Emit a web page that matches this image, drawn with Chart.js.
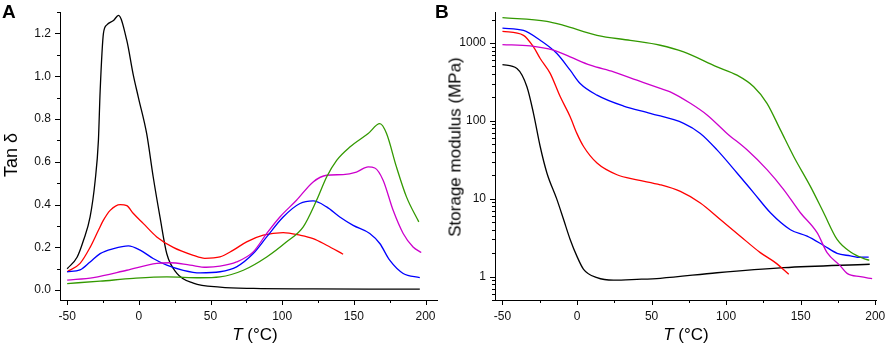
<!DOCTYPE html>
<html>
<head>
<meta charset="utf-8">
<script src="https://cdn.jsdelivr.net/npm/chart.js@4.4.1/dist/chart.umd.min.js"></script>
<style>
  html, body { margin: 0; padding: 0; background: #fff; }
  #wrap { position: relative; width: 886px; height: 349px; overflow: hidden; font-family: "Liberation Sans", Arial, sans-serif; color: #000; }
  .pane { position: absolute; top: 0; height: 349px; }
  .lbl { position: absolute; white-space: nowrap; line-height: 1; }
  .panel { font-weight: bold; font-size: 19px; }
  .ytitle { font-size: 17px; transform: translate(-50%, -50%) rotate(-90deg); }
  .xtitle { font-size: 17px; transform: translateX(-50%); }
</style>
</head>
<body>
<div id="wrap">
  <div class="pane" style="left:0;width:445px;"><canvas id="cA"></canvas></div>
  <div class="pane" style="left:445px;width:441px;"><canvas id="cB"></canvas></div>
  <div class="lbl panel" style="left:2px;top:2px;">A</div>
  <div class="lbl panel" style="left:435px;top:2px;">B</div>
  <div class="lbl ytitle" style="left:11px;top:155px;font-size:18px;">Tan δ</div>
  <div class="lbl ytitle" style="left:455px;top:147px;">Storage modulus (MPa)</div>
  <div class="lbl xtitle" style="left:255px;top:326px;"><i>T</i> (°C)</div>
  <div class="lbl xtitle" style="left:686px;top:326px;"><i>T</i> (°C)</div>
</div>
<script>
// ---------- Tick values ----------
const tempTicks = [-50, 0, 50, 100, 150, 200];
const tempMinorTicks = [-25, 25, 75, 125, 175];
const tanTicks = [0, 0.2, 0.4, 0.6, 0.8, 1.0, 1.2];
const tanMinorTicks = [0.1, 0.3, 0.5, 0.7, 0.9, 1.1, 1.3];
const modTicks = [1, 10, 100, 1000];
const modMinorTicks = [0.5, 0.6, 0.7, 0.8, 0.9, 2, 3, 4, 5, 6, 7, 8, 9, 20, 30, 40, 50, 60, 70, 80, 90, 200, 300, 400, 500, 600, 700, 800, 900, 2000];

// ---------- Panel A: tan delta ----------
const tanBlackT = [-50, -43, -38.6, -34, -30.5, -28.2, -27, -24.7, -22.3, -17.7, -14.2, -8.4, -4, -0.3, 5.5, 10, 14.8, 19.5, 26.4, 38, 56.6, 80, 120, 160, 196];
const tanBlack  = [0.10, 0.155, 0.233, 0.342, 0.51, 0.70, 0.93, 1.20, 1.24, 1.26, 1.284, 1.167, 1.01, 0.90, 0.73, 0.53, 0.34, 0.17, 0.08, 0.033, 0.014, 0.008, 0.006, 0.005, 0.005];

const tanRedT = [-50, -41, -34, -28.2, -24.7, -20, -13, -8.4, -3.8, 3.2, 12.5, 24, 38, 46, 56.6, 65.9, 75.2, 86.8, 100.7, 112.4, 121.6, 131, 142.5];
const tanRed  = [0.086, 0.125, 0.20, 0.28, 0.327, 0.373, 0.40, 0.395, 0.358, 0.311, 0.249, 0.20, 0.163, 0.149, 0.155, 0.187, 0.226, 0.257, 0.269, 0.257, 0.241, 0.21, 0.168];

const tanBlueT = [-50, -41, -34, -27, -17.7, -7.3, 0.9, 10, 19.5, 31, 42.7, 56.6, 68.2, 79.8, 89.2, 100.7, 112.4, 121.6, 131, 140.2, 149.5, 161.1, 168.1, 175, 184.4, 196];
const tanBlue  = [0.086, 0.095, 0.132, 0.171, 0.194, 0.207, 0.187, 0.148, 0.117, 0.093, 0.081, 0.086, 0.109, 0.171, 0.249, 0.342, 0.405, 0.417, 0.389, 0.342, 0.303, 0.265, 0.218, 0.14, 0.078, 0.059];

const tanMagentaT = [-50, -31.7, -8.4, 12.5, 21.8, 35.7, 47, 56.6, 68.2, 79.8, 89.2, 98.4, 110, 121.6, 131, 142.5, 151.8, 160, 164.6, 170.4, 177.4, 184.4, 191.3, 197];
const tanMagenta  = [0.047, 0.059, 0.093, 0.125, 0.128, 0.117, 0.107, 0.112, 0.132, 0.179, 0.265, 0.342, 0.42, 0.506, 0.537, 0.54, 0.552, 0.576, 0.571, 0.514, 0.373, 0.265, 0.202, 0.176];

const tanGreenT = [-50, -27, -3.8, 19.5, 42.7, 56.6, 72.9, 89.2, 103.1, 114.7, 124, 131, 138, 147.2, 160, 168.1, 172.8, 179.7, 186.7, 195.3];
const tanGreen  = [0.031, 0.042, 0.055, 0.062, 0.058, 0.062, 0.093, 0.155, 0.226, 0.296, 0.42, 0.529, 0.607, 0.669, 0.732, 0.778, 0.732, 0.576, 0.436, 0.319];

// ---------- Panel B: storage modulus (MPa) ----------
const modGreenT = [-50, -20.2, -9, 13.4, 35.7, 55.8, 71.5, 93.9, 107.3, 118.5, 127.4, 136.4, 145.3, 156.5, 165.4, 174.4, 183.4, 192.3, 196];
const modGreen  = [2115, 1900, 1680, 1255, 1080, 935, 768, 493, 386, 274, 168, 76.5, 34.9, 14.4, 6.6, 3.0, 2.07, 1.70, 1.62];

const modBlueT = [-50, -35.9, -24.7, -13.5, -4.6, 2.1, 13.4, 31.2, 49.1, 71.5, 82.7, 93.9, 107.3, 118.5, 129.7, 143.1, 154.3, 165.4, 174.4, 183.4, 187.9, 195.6];
const modBlue  = [1550, 1450, 1083, 733, 447, 302, 214, 155, 125, 93, 69, 42.4, 21.4, 11.9, 6.6, 4.0, 3.3, 2.51, 1.99, 1.84, 1.77, 1.78];

const modMagentaT = [-50, -31.4, -15.8, -4.6, 8.9, 24.5, 40.2, 55.8, 62.5, 76, 87.2, 100.6, 114, 127.4, 138.6, 149.8, 161, 167.7, 176.6, 181.1, 190, 197.9];
const modMagenta  = [955, 916, 807, 663, 518, 426, 333, 261, 236, 168, 119, 69, 42.4, 23.6, 13.1, 6.6, 3.66, 2.03, 1.37, 1.10, 0.995, 0.94];

const modRedT = [-50, -35.9, -29.2, -24.7, -18, -11.3, -4.6, -0.1, 4.4, 13.4, 26.8, 40.2, 55.8, 69.3, 82.7, 96.1, 109.5, 122.9, 133, 142];
const modRed  = [1410, 1254, 890, 632, 407, 205, 113, 69, 46.8, 28.7, 20.3, 17.5, 15.1, 12.4, 8.8, 5.4, 3.3, 2.03, 1.51, 1.07];

const modBlackT = [-50, -40.3, -33.6, -29.2, -24.7, -20.2, -13.5, -9, -4.6, -0.1, 4.4, 13.4, 24.5, 40.2, 55.8, 93.9, 138.6, 196.3];
const modBlack  = [529, 470, 274, 125, 46.8, 21.4, 9.8, 5.4, 3.0, 1.83, 1.24, 0.97, 0.90, 0.92, 0.95, 1.12, 1.30, 1.44];

// ---------- helpers ----------
const COLORS = { black: '#000000', red: '#ff0000', blue: '#0000ff', magenta: '#cc00cc', green: '#339900' };
const FONT = { family: '"Liberation Sans", Arial, sans-serif', size: 12 };

function pts(xs, ys) { return xs.map((x, i) => ({ x: x, y: ys[i] })); }
function ds(xs, ys, color) {
  return { data: pts(xs, ys), borderColor: color, backgroundColor: color, borderWidth: 1.3,
           pointRadius: 0, fill: false, tension: 0, cubicInterpolationMode: 'monotone' };
}

const tickMarksPlugin = {
  id: 'tickMarks',
  afterDraw(chart, args, opts) {
    const ctx = chart.ctx;
    ctx.save();
    ctx.strokeStyle = '#000';
    ctx.lineWidth = 1;
    ['x', 'y'].forEach(id => {
      const s = chart.scales[id];
      const o = opts[id];
      if (!s || !o) return;
      const draw = (vals, len) => vals.forEach(v => {
        const p = Math.round(s.getPixelForValue(v)) + 0.5;
        ctx.beginPath();
        if (id === 'x') { const y0 = Math.round(s.top); ctx.moveTo(p, y0); ctx.lineTo(p, y0 + len); }
        else { const x0 = Math.round(s.right); ctx.moveTo(x0, p); ctx.lineTo(x0 - len, p); }
        ctx.stroke();
      });
      draw(o.major, 5);
      draw(o.minor, 3);
    });
    ctx.restore();
  }
};

function makeScale(type, min, max, majors, fmt, fitSize, isX) {
  return {
    type: type, min: min, max: max,
    grid: { display: false, drawTicks: true, tickLength: 5 },
    border: { display: true, color: '#000', width: 1 },
    ticks: { color: '#111', font: FONT, padding: 4, maxRotation: 0, autoSkip: false, includeBounds: false,
             callback: (v) => fmt(v) },
    afterBuildTicks: (s) => { s.ticks = majors.map(v => ({ value: v })); },
    afterFit: (s) => {
      if (isX) { s.height = fitSize; s.paddingLeft = 0; s.paddingRight = 0; }
      else { s.width = fitSize; s.paddingTop = 0; s.paddingBottom = 0; }
    }
  };
}

Chart.defaults.font.family = FONT.family;

new Chart(document.getElementById('cA'), {
  type: 'line',
  data: { datasets: [
    ds(tanGreenT, tanGreen, COLORS.green),
    ds(tanMagentaT, tanMagenta, COLORS.magenta),
    ds(tanBlueT, tanBlue, COLORS.blue),
    ds(tanRedT, tanRed, COLORS.red),
    ds(tanBlackT, tanBlack, COLORS.black)
  ]},
  options: {
    responsive: true, maintainAspectRatio: false, animation: false,
    layout: { padding: { top: 12, right: 8, left: 0, bottom: 0 } },
    plugins: { legend: { display: false }, tooltip: { enabled: false },
               tickMarks: { x: { major: tempTicks, minor: tempMinorTicks }, y: { major: tanTicks, minor: tanMinorTicks } } },
    scales: {
      x: makeScale('linear', -55, 208, tempTicks, v => String(v), 49, true),
      y: makeScale('linear', -0.046, 1.3, tanTicks, v => Number(v).toFixed(1), 60, false)
    }
  },
  plugins: [tickMarksPlugin]
});

new Chart(document.getElementById('cB'), {
  type: 'line',
  data: { datasets: [
    ds(modGreenT, modGreen, COLORS.green),
    ds(modMagentaT, modMagenta, COLORS.magenta),
    ds(modBlueT, modBlue, COLORS.blue),
    ds(modRedT, modRed, COLORS.red),
    ds(modBlackT, modBlack, COLORS.black)
  ]},
  options: {
    responsive: true, maintainAspectRatio: false, animation: false,
    layout: { padding: { top: 12, right: 10, left: 0, bottom: 0 } },
    plugins: { legend: { display: false }, tooltip: { enabled: false },
               tickMarks: { x: { major: tempTicks, minor: tempMinorTicks }, y: { major: modTicks, minor: modMinorTicks } } },
    scales: {
      x: makeScale('linear', -55, 200.5, tempTicks, v => String(v), 49, true),
      y: makeScale('logarithmic', 0.5, 2500, modTicks, v => String(v), 50, false)
    }
  },
  plugins: [tickMarksPlugin]
});
</script>
</body>
</html>
